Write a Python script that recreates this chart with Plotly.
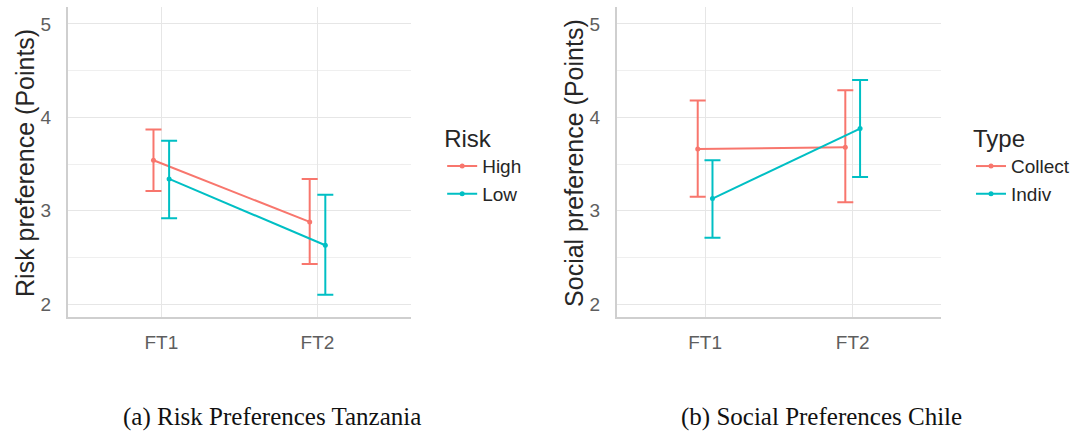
import plotly.graph_objects as go

# ---- data -------------------------------------------------------------
periods = ["FT1", "FT2"]
period_pos = [1, 2]
dodge = 0.05

# (a) Risk preferences, Tanzania
risk_groups = ["High", "Low"]
risk_mean = {"High": [3.54, 2.88], "Low": [3.34, 2.63]}
risk_lo = {"High": [3.21, 2.43], "Low": [2.92, 2.10]}
risk_hi = {"High": [3.87, 3.34], "Low": [3.75, 3.17]}

# (b) Social preferences, Chile
type_groups = ["Collect", "Indiv"]
soc_mean = {"Collect": [3.66, 3.68], "Indiv": [3.13, 3.88]}
soc_lo = {"Collect": [3.15, 3.09], "Indiv": [2.71, 3.36]}
soc_hi = {"Collect": [4.18, 4.29], "Indiv": [3.54, 4.40]}

y_ticks = [2, 3, 4, 5]
colors = ["#F8766D", "#00BFC4"]

# ---- layout helpers ---------------------------------------------------
W, H = 1075, 432
FONT = "Liberation Sans, Arial, sans-serif"


def px_x(p):
    return p / W


def px_y(p):
    return 1 - p / H


fig = go.Figure()


def add_panel(groups, mean, lo, hi, xa, ya, legend):
    for i, g in enumerate(groups):
        off = -dodge if i == 0 else dodge
        xs = [p + off for p in period_pos]
        fig.add_trace(go.Scatter(
            x=xs, y=mean[g], name=g, mode="lines+markers",
            xaxis=xa, yaxis=ya, legend=legend,
            line=dict(color=colors[i], width=2),
            marker=dict(color=colors[i], size=5),
            error_y=dict(
                type="data", symmetric=False,
                array=[h - m for h, m in zip(hi[g], mean[g])],
                arrayminus=[m - l for m, l in zip(mean[g], lo[g])],
                color=colors[i], thickness=2, width=8,
            ),
        ))


add_panel(risk_groups, risk_mean, risk_lo, risk_hi, "x", "y", "legend")
add_panel(type_groups, soc_mean, soc_lo, soc_hi, "x2", "y2", "legend2")

y_dom = [px_y(317), px_y(7)]

xaxis_common = dict(
    range=[0.4, 2.6], tickmode="array", tickvals=period_pos, ticktext=periods,
    showgrid=True, gridcolor="#e6e6e6", gridwidth=1.3, zeroline=False,
    showline=True, linecolor="#cfcfcf", linewidth=1.5, mirror=False,
    ticks="", ticklabelstandoff=7,
    tickfont=dict(family=FONT, size=19, color="#5e5e5e"),
)
yaxis_common = dict(
    range=[1.861, 5.182], tickmode="array", tickvals=y_ticks,
    showgrid=True, gridcolor="#e6e6e6", gridwidth=1.3, zeroline=False,
    minor=dict(dtick=0.5, tick0=0, showgrid=True, gridcolor="#efefef", gridwidth=1),
    showline=True, linecolor="#cfcfcf", linewidth=1.5, mirror=False,
    ticks="", ticklabelstandoff=11,
    tickfont=dict(family=FONT, size=19, color="#5e5e5e"),
)

legend_common = dict(
    xanchor="left", yanchor="top", bgcolor="rgba(0,0,0,0)", borderwidth=0,
    font=dict(family=FONT, size=19, color="#262626"),
    title=dict(font=dict(family=FONT, size=24, color="#262626")),
    itemclick=False, itemdoubleclick=False,
)

fig.update_layout(
    width=W, height=H,
    margin=dict(l=0, r=0, t=0, b=0),
    paper_bgcolor="white", plot_bgcolor="white",
    font=dict(family=FONT),
    xaxis=dict(domain=[px_x(67.7), px_x(412)], anchor="y", **xaxis_common),
    yaxis=dict(domain=y_dom, anchor="x", **yaxis_common),
    xaxis2=dict(domain=[px_x(617.7), px_x(943)], anchor="y2", **xaxis_common),
    yaxis2=dict(domain=y_dom, anchor="x2", **yaxis_common),
    legend=dict(x=px_x(443), y=px_y(116), **legend_common),
    legend2=dict(x=px_x(973), y=px_y(116), **legend_common),
)
fig.layout.legend.title.text = "Risk"
fig.layout.legend2.title.text = "Type"

# axis titles
for x_c, txt in [(25, "Risk preference (Points)"), (575, "Social preference (Points)")]:
    fig.add_annotation(
        x=px_x(x_c), y=px_y(163), xref="paper", yref="paper",
        text=txt, textangle=-90, showarrow=False,
        xanchor="center", yanchor="middle",
        font=dict(family=FONT, size=25, color="#262626"),
    )

# sub-figure captions, sitting on the bottom edge of the page
for x_c, txt in [(273, "(a) Risk Preferences Tanzania"), (823, "(b) Social Preferences Chile")]:
    fig.add_annotation(
        x=px_x(x_c), y=0, xref="paper", yref="paper",
        text=txt, showarrow=False, xanchor="center", yanchor="bottom",
        borderpad=0,
        font=dict(family="Liberation Serif, Times New Roman, serif", size=25, color="#111111"),
    )

fig.write_html("out.html")
